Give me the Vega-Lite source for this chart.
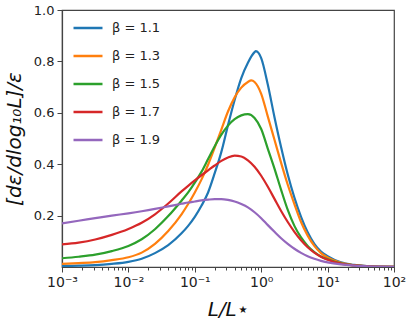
{
  "$schema": "https://vega.github.io/schema/vega-lite/v6.json",
  "autosize": {"type": "none"},
  "padding": {"left": 62, "top": 10, "right": 13, "bottom": 59},
  "width": 332,
  "height": 257,
  "background": "white",
  "config": {
    "view": {"stroke": "#444", "strokeWidth": 1.2},
    "font": "DejaVu Sans",
    "axis": {"grid": false, "domainColor": "#444", "domainWidth": 1.2, "tickColor": "#444", "tickWidth": 1, "labelColor": "#222", "labelFont": "DejaVu Sans", "labelFontSize": 13, "titleFont": "DejaVu Sans", "titleColor": "#111", "titleFontWeight": "normal"}
  },
  "datasets": {
    "curves": [
      {"b":"β = 1.1","L":0.001,"v":0.004},{"b":"β = 1.1","L":0.001778,"v":0.005},{"b":"β = 1.1","L":0.003162,"v":0.007},{"b":"β = 1.1","L":0.005623,"v":0.012},{"b":"β = 1.1","L":0.01,"v":0.02},{"b":"β = 1.1","L":0.01585,"v":0.032},{"b":"β = 1.1","L":0.02512,"v":0.054},{"b":"β = 1.1","L":0.03981,"v":0.085},{"b":"β = 1.1","L":0.0631,"v":0.131},{"b":"β = 1.1","L":0.07943,"v":0.16},{"b":"β = 1.1","L":0.1,"v":0.195},{"b":"β = 1.1","L":0.1259,"v":0.238},{"b":"β = 1.1","L":0.1585,"v":0.29},{"b":"β = 1.1","L":0.1995,"v":0.365},{"b":"β = 1.1","L":0.2512,"v":0.448},{"b":"β = 1.1","L":0.3162,"v":0.552},{"b":"β = 1.1","L":0.3981,"v":0.65},{"b":"β = 1.1","L":0.5012,"v":0.735},{"b":"β = 1.1","L":0.631,"v":0.795},{"b":"β = 1.1","L":0.7943,"v":0.836},{"b":"β = 1.1","L":0.8318,"v":0.84},{"b":"β = 1.1","L":1,"v":0.813},{"b":"β = 1.1","L":1.259,"v":0.709},{"b":"β = 1.1","L":1.585,"v":0.583},{"b":"β = 1.1","L":1.995,"v":0.466},{"b":"β = 1.1","L":2.512,"v":0.36},{"b":"β = 1.1","L":3.162,"v":0.27},{"b":"β = 1.1","L":3.981,"v":0.195},{"b":"β = 1.1","L":5.012,"v":0.135},{"b":"β = 1.1","L":6.31,"v":0.09},{"b":"β = 1.1","L":7.943,"v":0.06},{"b":"β = 1.1","L":10,"v":0.042},{"b":"β = 1.1","L":15.85,"v":0.018},{"b":"β = 1.1","L":25.12,"v":0.008},{"b":"β = 1.1","L":39.81,"v":0.0035},{"b":"β = 1.1","L":63.1,"v":0.0015},{"b":"β = 1.1","L":100,"v":0.0006},
      {"b":"β = 1.3","L":0.001,"v":0.012},{"b":"β = 1.3","L":0.001778,"v":0.0151},{"b":"β = 1.3","L":0.003162,"v":0.019},{"b":"β = 1.3","L":0.005623,"v":0.0268},{"b":"β = 1.3","L":0.01,"v":0.038},{"b":"β = 1.3","L":0.01585,"v":0.056},{"b":"β = 1.3","L":0.02512,"v":0.09},{"b":"β = 1.3","L":0.03981,"v":0.14},{"b":"β = 1.3","L":0.0631,"v":0.205},{"b":"β = 1.3","L":0.07943,"v":0.245},{"b":"β = 1.3","L":0.1,"v":0.29},{"b":"β = 1.3","L":0.1259,"v":0.34},{"b":"β = 1.3","L":0.1585,"v":0.398},{"b":"β = 1.3","L":0.1995,"v":0.465},{"b":"β = 1.3","L":0.2512,"v":0.535},{"b":"β = 1.3","L":0.3162,"v":0.605},{"b":"β = 1.3","L":0.3981,"v":0.66},{"b":"β = 1.3","L":0.5012,"v":0.698},{"b":"β = 1.3","L":0.631,"v":0.72},{"b":"β = 1.3","L":0.7079,"v":0.726},{"b":"β = 1.3","L":0.7943,"v":0.72},{"b":"β = 1.3","L":1,"v":0.674},{"b":"β = 1.3","L":1.259,"v":0.585},{"b":"β = 1.3","L":1.585,"v":0.495},{"b":"β = 1.3","L":1.995,"v":0.405},{"b":"β = 1.3","L":2.512,"v":0.32},{"b":"β = 1.3","L":3.162,"v":0.245},{"b":"β = 1.3","L":3.981,"v":0.175},{"b":"β = 1.3","L":5.012,"v":0.122},{"b":"β = 1.3","L":6.31,"v":0.082},{"b":"β = 1.3","L":7.943,"v":0.054},{"b":"β = 1.3","L":10,"v":0.037},{"b":"β = 1.3","L":15.85,"v":0.016},{"b":"β = 1.3","L":25.12,"v":0.007},{"b":"β = 1.3","L":39.81,"v":0.003},{"b":"β = 1.3","L":63.1,"v":0.0013},{"b":"β = 1.3","L":100,"v":0.0005},
      {"b":"β = 1.5","L":0.001,"v":0.034},{"b":"β = 1.5","L":0.001778,"v":0.04},{"b":"β = 1.5","L":0.003162,"v":0.048},{"b":"β = 1.5","L":0.005623,"v":0.062},{"b":"β = 1.5","L":0.01,"v":0.082},{"b":"β = 1.5","L":0.01585,"v":0.108},{"b":"β = 1.5","L":0.02512,"v":0.147},{"b":"β = 1.5","L":0.03981,"v":0.198},{"b":"β = 1.5","L":0.0631,"v":0.258},{"b":"β = 1.5","L":0.07943,"v":0.29},{"b":"β = 1.5","L":0.1,"v":0.328},{"b":"β = 1.5","L":0.1259,"v":0.37},{"b":"β = 1.5","L":0.1585,"v":0.42},{"b":"β = 1.5","L":0.1995,"v":0.47},{"b":"β = 1.5","L":0.2512,"v":0.515},{"b":"β = 1.5","L":0.3162,"v":0.55},{"b":"β = 1.5","L":0.3981,"v":0.575},{"b":"β = 1.5","L":0.5012,"v":0.59},{"b":"β = 1.5","L":0.631,"v":0.595},{"b":"β = 1.5","L":0.7943,"v":0.58},{"b":"β = 1.5","L":1,"v":0.537},{"b":"β = 1.5","L":1.259,"v":0.46},{"b":"β = 1.5","L":1.585,"v":0.383},{"b":"β = 1.5","L":1.995,"v":0.3},{"b":"β = 1.5","L":2.512,"v":0.222},{"b":"β = 1.5","L":3.162,"v":0.16},{"b":"β = 1.5","L":3.981,"v":0.115},{"b":"β = 1.5","L":5.012,"v":0.082},{"b":"β = 1.5","L":6.31,"v":0.058},{"b":"β = 1.5","L":7.943,"v":0.041},{"b":"β = 1.5","L":10,"v":0.03},{"b":"β = 1.5","L":15.85,"v":0.014},{"b":"β = 1.5","L":25.12,"v":0.006},{"b":"β = 1.5","L":39.81,"v":0.0025},{"b":"β = 1.5","L":63.1,"v":0.001},{"b":"β = 1.5","L":100,"v":0.0004},
      {"b":"β = 1.7","L":0.001,"v":0.088},{"b":"β = 1.7","L":0.001778,"v":0.095},{"b":"β = 1.7","L":0.003162,"v":0.107},{"b":"β = 1.7","L":0.005623,"v":0.125},{"b":"β = 1.7","L":0.01,"v":0.148},{"b":"β = 1.7","L":0.01585,"v":0.172},{"b":"β = 1.7","L":0.02512,"v":0.205},{"b":"β = 1.7","L":0.03981,"v":0.247},{"b":"β = 1.7","L":0.0631,"v":0.294},{"b":"β = 1.7","L":0.07943,"v":0.316},{"b":"β = 1.7","L":0.1,"v":0.337},{"b":"β = 1.7","L":0.1259,"v":0.357},{"b":"β = 1.7","L":0.1585,"v":0.376},{"b":"β = 1.7","L":0.1995,"v":0.395},{"b":"β = 1.7","L":0.2512,"v":0.413},{"b":"β = 1.7","L":0.3162,"v":0.426},{"b":"β = 1.7","L":0.3981,"v":0.433},{"b":"β = 1.7","L":0.5012,"v":0.43},{"b":"β = 1.7","L":0.631,"v":0.415},{"b":"β = 1.7","L":0.7943,"v":0.39},{"b":"β = 1.7","L":1,"v":0.355},{"b":"β = 1.7","L":1.259,"v":0.312},{"b":"β = 1.7","L":1.585,"v":0.265},{"b":"β = 1.7","L":1.995,"v":0.218},{"b":"β = 1.7","L":2.512,"v":0.175},{"b":"β = 1.7","L":3.162,"v":0.137},{"b":"β = 1.7","L":3.981,"v":0.104},{"b":"β = 1.7","L":5.012,"v":0.077},{"b":"β = 1.7","L":6.31,"v":0.056},{"b":"β = 1.7","L":7.943,"v":0.04},{"b":"β = 1.7","L":10,"v":0.028},{"b":"β = 1.7","L":15.85,"v":0.013},{"b":"β = 1.7","L":25.12,"v":0.006},{"b":"β = 1.7","L":39.81,"v":0.0025},{"b":"β = 1.7","L":63.1,"v":0.001},{"b":"β = 1.7","L":100,"v":0.0004},
      {"b":"β = 1.9","L":0.001,"v":0.17},{"b":"β = 1.9","L":0.001778,"v":0.18},{"b":"β = 1.9","L":0.003162,"v":0.19},{"b":"β = 1.9","L":0.005623,"v":0.2},{"b":"β = 1.9","L":0.01,"v":0.209},{"b":"β = 1.9","L":0.01585,"v":0.217},{"b":"β = 1.9","L":0.02512,"v":0.226},{"b":"β = 1.9","L":0.03981,"v":0.236},{"b":"β = 1.9","L":0.0631,"v":0.246},{"b":"β = 1.9","L":0.07943,"v":0.251},{"b":"β = 1.9","L":0.1,"v":0.255},{"b":"β = 1.9","L":0.1259,"v":0.259},{"b":"β = 1.9","L":0.1585,"v":0.262},{"b":"β = 1.9","L":0.1995,"v":0.264},{"b":"β = 1.9","L":0.2512,"v":0.264},{"b":"β = 1.9","L":0.3162,"v":0.261},{"b":"β = 1.9","L":0.3981,"v":0.255},{"b":"β = 1.9","L":0.5012,"v":0.245},{"b":"β = 1.9","L":0.631,"v":0.232},{"b":"β = 1.9","L":0.7943,"v":0.213},{"b":"β = 1.9","L":1,"v":0.19},{"b":"β = 1.9","L":1.259,"v":0.163},{"b":"β = 1.9","L":1.585,"v":0.137},{"b":"β = 1.9","L":1.995,"v":0.112},{"b":"β = 1.9","L":2.512,"v":0.09},{"b":"β = 1.9","L":3.162,"v":0.071},{"b":"β = 1.9","L":3.981,"v":0.055},{"b":"β = 1.9","L":5.012,"v":0.042},{"b":"β = 1.9","L":6.31,"v":0.032},{"b":"β = 1.9","L":7.943,"v":0.024},{"b":"β = 1.9","L":10,"v":0.018},{"b":"β = 1.9","L":15.85,"v":0.01},{"b":"β = 1.9","L":25.12,"v":0.0055},{"b":"β = 1.9","L":39.81,"v":0.003},{"b":"β = 1.9","L":63.1,"v":0.0015},{"b":"β = 1.9","L":100,"v":0.0008}
    ]
  },
  "data": {"name": "curves"},
  "mark": {"type": "line", "strokeWidth": 2.2, "interpolate": "monotone", "clip": true},
  "encoding": {
    "x": {
      "field": "L", "type": "quantitative",
      "scale": {"type": "log", "domain": [0.001, 100], "nice": false},
      "axis": {
        "title": "L/L⋆", "titleFontSize": 20, "titleFontStyle": "italic", "titlePadding": 10,
        "values": [0.001,0.002,0.003,0.004,0.005,0.006,0.007,0.008,0.009,0.01,0.02,0.03,0.04,0.05,0.06,0.07,0.08,0.09,0.1,0.2,0.3,0.4,0.5,0.6,0.7,0.8,0.9,1,2,3,4,5,6,7,8,9,10,20,30,40,50,60,70,80,90,100],
        "labelExpr": "abs(log(datum.value)/LN10 - round(log(datum.value)/LN10)) < 0.001 ? ['10⁻³','10⁻²','10⁻¹','10⁰','10¹','10²'][round(log(datum.value)/LN10)+3] : ''",
        "tickSize": {"condition": {"test": "abs(log(datum.value)/LN10 - round(log(datum.value)/LN10)) < 0.001", "value": 5}, "value": 3},
        "labelOverlap": false, "labelFlush": false, "labelPadding": 3, "labelFontSize": 14
      }
    },
    "y": {
      "field": "v", "type": "quantitative",
      "scale": {"domain": [0, 1], "nice": false, "zero": false},
      "axis": {"title": "[dε/dlog₁₀L]/ε", "titleFontSize": 20, "titleFontStyle": "italic", "titlePadding": 9, "values": [0.2, 0.4, 0.6, 0.8, 1.0], "format": ".1f", "tickSize": 5, "labelPadding": 3}
    },
    "color": {
      "field": "b", "type": "nominal",
      "scale": {"domain": ["β = 1.1", "β = 1.3", "β = 1.5", "β = 1.7", "β = 1.9"], "range": ["#1f77b4", "#ff7f0e", "#2ca02c", "#d62728", "#9467bd"]},
      "legend": {"title": null, "orient": "none", "legendX": 10, "legendY": 2, "symbolType": "stroke", "symbolSize": 840, "symbolStrokeWidth": 2.5, "labelFontSize": 13, "labelFont": "DejaVu Sans", "labelColor": "#222", "rowPadding": 5, "labelOffset": 8}
    }
  }
}
